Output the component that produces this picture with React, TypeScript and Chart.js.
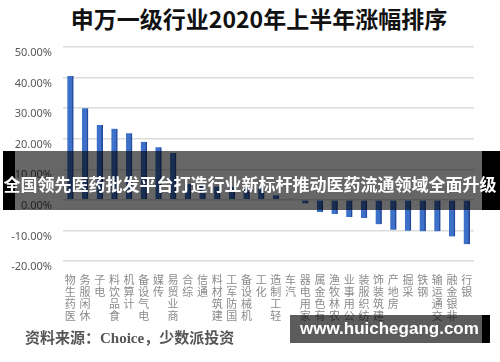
import React, { useEffect, useRef } from 'react';
import { Chart, registerables } from 'chart.js';

Chart.register(...registerables);

const titleText = '申万一级行业2020年上半年涨幅排序';
const sourceText = '资料来源：Choice，少数派投资';
const bannerText = '全国领先医药批发平台打造行业新标杆推动医药流通领域全面升级';
const watermarkText = 'www.huichegang.com';

const categories = [
  '医药生物', '休闲服务', '电子', '食品饮料', '计算机', '电气设备', '传媒', '商业贸易',
  '综合', '通信', '建筑材料', '国防军工', '机械设备', '化工', '轻工制造', '汽车',
  '家用电器', '有色金属', '农林牧渔', '公用事业', '纺织服装', '建筑装饰', '房地产', '采掘',
  '钢铁', '交通运输', '非银金融', '银行',
];
const changes = [
  40.5, 30.0, 24.5, 23.3, 21.8, 19.0, 17.2, 15.3,
  5.2, 4.9, 4.4, 4.2, 4.0, 3.8, 1.5, 0.4,
  -1.2, -4.0, -4.6, -5.6, -5.9, -8.0, -9.8, -10.1,
  -10.3, -10.3, -12.0, -14.5,
];
const yMin = -20;
const yMax = 50;
const yStep = 10;

export default function App() {
  const ref = useRef<HTMLCanvasElement>(null);

  useEffect(() => {
    const chart = new Chart(ref.current as HTMLCanvasElement, {
      type: 'bar',
      data: {
        labels: categories.map((c) => c.split('').reverse()),
        datasets: [
          {
            data: changes,
            backgroundColor: '#3d70c8',
            borderColor: '#24489a',
            borderWidth: { right: 1.5, left: 0, top: 0, bottom: 0 },
            borderSkipped: false,
            barThickness: 6,
          },
        ],
      },
      options: {
        animation: false,
        responsive: false,
        maintainAspectRatio: false,
        layout: { padding: { top: 47, right: 26, left: 0, bottom: 0 } },
        plugins: { legend: { display: false }, tooltip: { enabled: false } },
        scales: {
          x: {
            grid: { display: false },
            border: { display: false },
            ticks: {
              maxRotation: 0,
              minRotation: 0,
              autoSkip: false,
              padding: 5,
              color: '#8a8a8a',
              font: { family: '"Noto Sans CJK SC"', size: 11, lineHeight: 1.08 },
            },
            afterFit: (s: any) => {
              s.height = 101;
            },
          },
          y: {
            min: yMin,
            max: yMax,
            ticks: {
              stepSize: yStep,
              callback: (v: any) => Number(v).toFixed(2) + '%',
              padding: 11,
              labelOffset: 6,
              color: '#595959',
              font: { family: '"Noto Sans"', size: 11 },
            },
            grid: { color: '#dcdcdc', lineWidth: 1.5, drawTicks: false },
            border: { display: false },
            afterFit: (s: any) => {
              s.width = 63;
            },
          },
        },
      },
    });
    return () => chart.destroy();
  }, []);

  return (
    <div
      style={{
        position: 'absolute',
        left: 0,
        top: 0,
        width: 500,
        height: 362,
        background: '#fff',
        overflow: 'hidden',
      }}
    >
      <div
        style={{
          position: 'absolute',
          left: 0,
          top: 4,
          width: 518,
          textAlign: 'center',
          font: 'bold 23px "Noto Sans CJK SC"',
          color: '#111',
          lineHeight: '28px',
          whiteSpace: 'nowrap',
        }}
      >
        {titleText}
      </div>
      <canvas ref={ref} width={500} height={362} style={{ position: 'absolute', left: 0, top: 0, display: 'block' }} />
      {/* banner overlay */}
      <div style={{ position: 'absolute', left: 3, top: 151, width: 12, height: 59, background: '#000' }} />
      <div style={{ position: 'absolute', left: 482, top: 151, width: 18, height: 59, background: '#000' }} />
      <div style={{ position: 'absolute', left: 15, top: 151, width: 467, height: 59, background: 'rgba(0,0,0,0.6)' }} />
      <div
        style={{
          position: 'absolute',
          left: 0,
          top: 173,
          width: 500,
          textAlign: 'center',
          font: 'bold 17px "Noto Sans CJK SC"',
          color: '#fff',
          lineHeight: '22px',
          whiteSpace: 'nowrap',
        }}
      >
        {bannerText}
      </div>
      {/* source */}
      <div
        style={{
          position: 'absolute',
          left: 25,
          top: 328,
          font: 'bold 15px "Liberation Serif", "Noto Sans CJK SC"',
          color: '#555',
          lineHeight: '20px',
          whiteSpace: 'nowrap',
        }}
      >
        {sourceText}
      </div>
      {/* watermark */}
      <div style={{ position: 'absolute', left: 290, top: 315, width: 192, height: 28, background: 'rgba(0,0,0,0.64)' }} />
      <div style={{ position: 'absolute', left: 482, top: 315, width: 8, height: 28, background: '#000' }} />
      <div
        style={{
          position: 'absolute',
          left: 300,
          top: 317,
          font: 'bold 17px "Liberation Sans"',
          color: '#fff',
          lineHeight: '24px',
          whiteSpace: 'nowrap',
        }}
      >
        {watermarkText}
      </div>
    </div>
  );
}
